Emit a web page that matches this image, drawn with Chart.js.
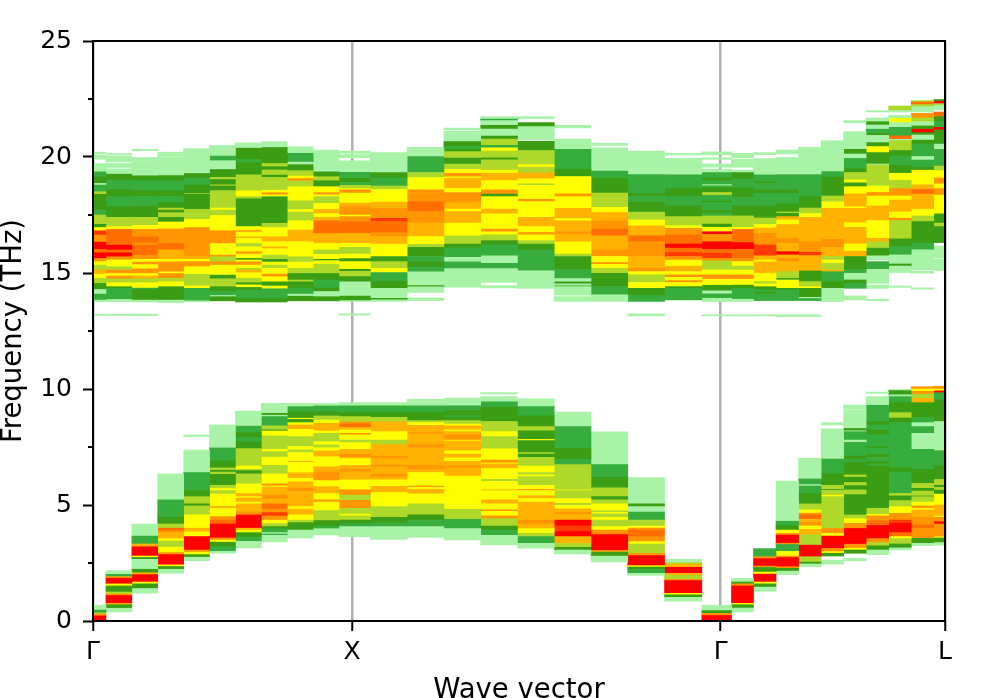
<!DOCTYPE html>
<html>
<head>
<meta charset="utf-8">
<script src="https://cdn.jsdelivr.net/npm/chart.js@4/dist/chart.umd.js"></script>
<style>html,body{margin:0;padding:0;background:#fff;overflow:hidden}canvas{display:block}</style>
</head>
<body>
<canvas id="c" width="997" height="698"></canvas>
<script>
// Wave-vector path position of every q-point
const qPoints = [0,0.1,0.2,0.3,0.4,0.5,0.6,0.7,0.8,0.9,1.0,1.142,1.284,1.426,1.568,1.71,1.852,1.994,2.136,2.278,2.424,2.507,2.594,2.681,2.768,2.855,2.942,3.029,3.116,3.203,3.29];
const tickPositions = [0,1.0,2.424,3.29];
const tickLabels = ['Γ','X','Γ','L'];
const freqTicks = [0,5,10,15,20,25];
const minorFreqTicks = [2.5,7.5,12.5,17.5,22.5];
// DOS weight classes: 0 = empty
const levelColors = [null,'#a8f3a8','#37ad3d','#3a9d13','#aed92a','#ffff00','#ffb300','#ff9500','#ff6f00','#ff3a00','#ff0000'];

// Each list runs downward in frequency: f, class, f, class, f ...
const low00=[0.68,1,0.47,2,0.35,4,0.3,7,0.22,10,0];
const low01=[2.17,1,2.01,2,1.91,6,1.85,10,1.6,5,1.51,3,1.25,4,1.16,7,1.1,10,0.76,6,0.7,3,0.55,1,0.39];
const low02=[4.18,1,3.66,2,3.32,6,3.2,10,2.8,5,2.74,3,2.66,1,2.23,3,2.08,6,2.0,10,1.68,5,1.6,3,1.4,1,1.2];
const low03=[6.34,1,5.22,2,4.47,3,4.18,4,4.0,8,3.88,7,3.8,6,3.55,5,3.44,4,3.18,5,2.95,7,2.86,10,2.42,5,2.35,3,2.23,1,2.06];
const low04=[8.02,1,7.95,0,7.37,1,6.4,2,5.62,3,5.36,4,5.05,3,4.96,4,4.58,5,4.0,6,3.84,5,3.64,10,3.06,7,2.97,5,2.86,3,2.75,1,2.6];
const low05=[8.45,1,7.46,2,6.9,3,6.6,4,6.5,3,6.42,4,6.32,3,5.85,4,5.71,5,5.62,4,5.48,5,4.93,7,4.87,5,4.5,7,4.35,8,4.18,10,3.58,7,3.49,5,3.4,3,3.2,2,3.0,1,2.92];
const low06=[9.05,1,8.4,2,8.12,3,7.92,2,7.72,3,7.43,4,6.68,5,6.54,4,6.48,3,6.34,4,5.91,5,5.5,6,5.36,5,5.3,6,5.13,5,5.05,6,4.7,7,4.57,10,4.0,6,3.92,5,3.81,3,3.6,2,3.43,1,3.15];
const low07=[9.38,1,8.95,3,8.87,1,8.81,2,8.41,4,8.24,3,8.19,5,7.98,4,7.4,5,7.3,4,7.06,5,6.71,4,6.34,5,5.91,7,5.82,5,5.77,6,5.43,7,5.25,6,5.05,8,4.82,7,4.67,9,4.53,7,4.35,5,4.2,4,4.07,3,3.98,2,3.81,1,3.75,2,3.69,1,3.41];
const low08=[9.38,1,9.24,2,9.02,3,8.74,5,8.69,3,8.55,5,8.45,6,8.26,5,8.12,5,7.95,4,7.52,5,7.38,4,7.26,5,6.88,7,6.85,5,6.39,6,6.15,5,6.0,6,5.72,7,5.58,6,4.93,5,4.82,6,4.58,5,4.35,4,4.24,3,3.92,1,3.58];
const low09=[9.38,1,9.27,2,9.02,3,8.84,4,8.66,5,8.52,6,8.19,5,8.09,4,7.73,5,7.59,4,7.47,5,7.33,6,7.08,5,6.65,6,6.43,7,6.05,5,5.79,6,5.5,5,5.22,7,5.13,5,4.76,4,4.33,3,4.1,2,3.98,1,3.71];
const low10=[9.41,1,9.27,2,8.98,3,8.81,4,8.59,7,8.49,8,8.35,6,8.24,5,8.09,7,8.02,5,7.8,4,7.69,5,7.4,6,7.2,7,7.06,6,7.0,5,6.71,6,6.54,7,6.43,6,6.08,5,5.65,7,5.43,4,5.2,7,4.86,4,4.61,5,4.53,4,4.35,3,4.2,2,4.07,1,3.64];
const low11=[9.41,1,9.27,2,8.98,3,8.78,4,8.58,6,8.16,5,7.8,4,7.6,6,7.11,7,7.0,6,6.72,7,6.63,6,6.34,7,6.2,6,6.08,5,5.8,6,5.55,5,4.93,4,4.47,3,4.24,2,4.07,1,3.52];
const low12=[9.56,1,9.47,0,9.45,1,9.27,2,8.98,3,8.64,4,8.55,5,8.43,6,8.12,7,8.06,6,7.6,7,7.46,6,6.71,7,6.54,6,6.4,5,5.82,7,5.76,5,5.68,6,5.48,5,5.05,4,4.58,3,4.33,2,4.07,1,3.6];
const low13=[9.61,1,9.27,2,9.07,3,8.84,2,8.78,3,8.64,4,8.49,5,8.41,6,8.24,5,8.16,6,8.02,7,7.8,5,7.75,6,7.34,5,7.2,6,7.03,5,6.88,6,6.68,7,6.6,6,6.25,5,4.81,4,4.38,2,3.98,1,3.49];
const low14=[9.85,1,9.79,0,9.67,1,9.45,2,9.21,3,8.6,4,8.16,5,7.95,4,7.42,5,6.94,7,6.82,5,6.77,6,6.57,5,6.11,4,6.02,5,5.65,7,5.62,5,5.22,6,5.05,5,4.79,7,4.73,5,4.53,7,4.41,4,4.09,3,3.92,2,3.69,1,3.28];
const low15=[9.58,1,9.24,2,8.84,3,8.38,4,8.2,3,7.83,5,7.78,3,7.26,4,7.2,3,7.06,4,6.68,5,6.4,4,6.3,5,6.22,4,5.85,5,5.68,7,5.62,5,5.39,6,5.28,5,5.13,6,4.35,7,4.18,6,3.98,5,3.78,4,3.64,2,3.35,1,3.14];
const low16=[9.01,1,8.38,2,7.43,3,6.97,2,6.74,4,5.65,5,5.62,4,5.28,5,5.07,4,4.99,5,4.83,6,4.67,7,4.6,6,4.35,10,4.1,9,3.85,10,3.64,6,3.35,4,3.18,3,3.06,1,2.89];
const low17=[8.15,1,6.74,2,6.2,3,5.74,4,5.36,3,5.22,4,5.05,5,4.75,4,4.68,5,4.62,4,4.47,5,4.35,4,4.07,5,3.92,7,3.72,10,3.03,6,2.97,3,2.8,1,2.55];
const low18=[6.18,1,5.05,3,4.93,1,4.7,2,4.35,4,4.09,5,4.0,7,3.92,8,3.64,7,3.42,5,3.32,4,2.92,7,2.82,10,2.39,5,2.32,3,2.23,2,2.05,1,1.97];
const low19=[2.66,1,2.51,4,2.45,6,2.31,10,2.05,6,1.97,4,1.8,7,1.74,10,1.19,5,1.13,3,1.02,1,0.86];
const low20=[0.68,1,0.45,3,0.33,7,0.24,10,0];
const low21=[1.84,1,1.68,3,1.6,7,1.51,10,0.76,5,0.7,3,0.56,1,0.39];
const low22=[3.12,2,2.77,7,2.69,10,2.37,7,2.31,3,2.11,5,2.02,10,1.68,5,1.6,3,1.46,1,1.28];
const low23=[6.03,1,4.3,2,4.1,3,3.92,5,3.78,7,3.7,10,3.35,7,3.3,2,3.0,5,2.8,7,2.74,10,2.34,7,2.27,3,2.15,1,2.0];
const low24=[7.02,1,6.12,2,5.88,1,5.82,2,5.5,3,5.05,4,4.79,5,4.65,7,4.57,8,4.38,6,4.25,7,4.1,5,3.95,6,3.72,4,3.27,10,2.77,4,2.54,3,2.46,1,2.34];
const low25=[8.55,1,8.45,0,8.28,1,6.98,2,6.34,3,5.85,4,5.67,3,5.63,4,5.43,5,5.36,4,3.99,7,3.78,5,3.66,10,3.13,7,2.99,5,2.92,3,2.8,0,2.62,1,2.45];
const low26=[9.31,1,9.12,0,9.08,1,8.3,3,8.2,1,8.16,2,7.8,1,7.7,2,7.11,3,6.97,2,6.83,3,6.3,4,6.2,3,5.97,4,5.84,3,5.65,4,5.45,3,4.57,4,4.41,5,4.21,7,3.99,10,3.31,7,3.14,5,3.06,3,2.92,0,2.7,1,2.59];
const low27=[9.87,1,9.81,0,9.67,1,9.3,2,8.59,3,8.45,2,8.23,3,8.03,2,7.5,3,7.44,2,7.19,3,7.05,2,6.87,3,6.77,2,6.68,3,4.86,4,4.6,5,4.53,7,4.33,8,4.12,10,3.55,7,3.38,4,3.24,3,3.06,1,2.86];
const low28=[9.98,1,9.93,3,9.75,1,9.67,2,9.41,3,8.98,4,8.75,3,8.55,2,6.6,3,6.42,2,5.5,4,5.39,3,5.19,4,4.93,5,4.64,7,4.35,9,4.21,10,3.81,8,3.64,5,3.55,4,3.32,3,3.15,1,3.06];
const low29=[10.1,7,10.0,5,9.9,7,9.78,4,9.6,6,9.41,3,8.78,2,8.55,1,8.38,2,8.09,1,7.4,2,6.54,3,5.93,4,5.72,3,5.6,4,5.39,3,5.36,4,5.13,5,4.96,7,4.86,5,4.79,6,4.47,7,4.14,8,3.99,7,3.56,3,3.35,1,3.25];
const low30=[10.12,7,10.0,5,9.92,10,9.84,2,9.53,3,8.6,1,8.16,1,7.34,2,6.7,3,6.1,4,5.85,3,5.76,4,5.64,3,5.47,5,5.0,6,4.53,5,4.47,7,4.28,10,4.18,7,3.63,5,3.58,3,3.38,1,3.27];

const high00=[20.21,1,20.13,0,20.07,1,19.9,0,19.72,1,19.36,2,19.15,3,18.86,1,18.79,2,18.5,4,18.39,3,17.71,2,17.5,4,17.1,3,16.96,5,16.82,9,16.63,7,16.33,10,16.02,8,15.87,10,15.63,7,15.49,5,15.34,4,15.13,6,14.95,5,14.77,4,14.55,3,14.29,1,14.09,2,13.83,1,13.76,0,13.23,1,13.17];
const high01=[20.15,1,20.1,0,20.05,1,19.79,0,19.72,1,19.55,0,19.49,1,19.26,3,19.0,2,18.6,3,18.29,2,17.86,3,17.4,4,17.0,5,16.88,8,16.2,10,15.99,8,15.87,10,15.7,7,15.56,5,15.27,4,15.13,7,14.98,5,14.87,7,14.75,4,14.58,5,14.41,3,14.34,2,13.86,1,13.76,0,13.23,1,13.17];
const high02=[20.33,1,20.27,0,19.98,1,19.81,0,19.79,1,19.19,3,18.98,2,18.55,3,18.31,2,17.88,3,17.4,4,17.05,5,16.88,7,16.56,8,16.3,7,16.2,8,15.77,7,15.59,5,15.47,7,15.36,5,15.18,7,14.98,5,14.87,6,14.75,4,14.58,5,14.35,2,14.29,3,13.83,1,13.75,0,13.23,1,13.16];
const high03=[20.21,1,20.15,0,20.12,1,20.04,0,20.01,1,19.2,3,18.98,2,18.55,3,18.31,2,18.03,3,17.8,4,17.71,3,17.6,4,17.4,3,17.2,5,16.9,7,16.27,8,16.0,6,15.59,5,15.48,7,15.05,5,14.98,7,14.77,4,14.62,5,14.41,3,13.83,1,13.72];
const high04=[20.36,1,19.29,3,19.08,2,18.79,3,18.43,4,18.4,3,17.74,4,17.31,5,16.96,7,15.7,6,15.59,5,15.49,7,15.27,5,14.95,4,14.44,5,14.34,2,13.8,1,13.76];
const high05=[20.5,1,20.04,2,19.84,1,19.65,1,19.46,3,19.12,4,19.03,3,18.8,4,18.75,3,18.55,4,17.8,5,17.71,4,17.48,5,16.82,7,16.27,5,15.77,7,15.7,4,15.49,7,15.34,5,14.91,3,14.75,4,14.41,3,14.2,2,14.03,1,13.98,3,13.8];
const high06=[20.61,1,20.38,3,19.9,2,19.75,3,19.23,4,18.54,5,18.29,4,18.2,3,17.0,5,16.85,6,16.75,5,16.56,6,16.49,5,16.27,4,16.13,5,15.92,7,15.82,5,15.63,3,15.56,5,15.48,7,15.34,5,15.2,4,15.13,6,15.01,5,14.77,4,14.58,3,14.49,5,14.38,3,14.26,2,13.9,3,13.75];
const high07=[20.66,1,20.41,3,19.72,4,19.58,3,19.44,4,19.22,3,19.12,4,18.57,5,18.46,7,18.37,5,18.29,3,17.14,4,16.96,5,16.56,6,16.35,5,16.13,6,16.05,5,15.77,4,15.59,3,15.47,5,15.34,4,15.2,5,14.95,7,14.84,5,14.62,3,14.44,5,14.32,2,13.9,3,13.75];
const high08=[20.44,1,20.16,2,19.78,1,19.67,3,19.41,4,19.18,5,19.07,7,18.97,4,18.72,5,18.11,4,17.94,4,17.74,5,17.62,4,17.25,5,16.85,6,16.35,5,15.7,4,15.47,5,15.2,4,14.98,3,14.7,4,14.62,3,14.35,2,14.09,1,14.0,3,13.8];
const high09=[20.3,1,19.36,3,19.15,4,18.98,3,18.72,5,18.46,7,18.37,5,18.29,4,18.0,5,17.74,6,17.56,5,17.4,6,17.25,8,16.7,6,16.27,5,16.0,4,15.8,5,15.59,3,15.53,5,15.38,4,14.98,3,14.7,2,14.35,3,14.2,1,13.98,3,13.8];
const high10=[20.25,1,20.15,0,20.1,1,19.97,0,19.84,1,19.34,2,19.08,3,18.9,2,18.78,4,18.64,5,18.58,7,18.44,5,18.01,6,17.86,7,17.5,5,17.43,7,17.22,8,16.71,6,16.28,5,16.11,4,15.82,5,15.62,3,15.49,5,15.16,3,15.07,4,14.85,3,14.62,1,14.01,3,13.81,1,13.78,0,13.24,1,13.18];
const high11=[20.19,1,19.33,3,19.1,2,18.75,4,18.6,5,18.06,6,17.79,7,17.36,9,17.22,8,16.74,7,16.57,6,16.25,5,15.85,5,15.71,3,15.49,4,15.2,5,15.02,2,14.63,3,14.34,1,13.91,3,13.84,1,13.77];
const high12=[20.42,1,20.02,2,19.33,4,19.11,5,18.58,7,18.47,7,18.08,8,17.68,8,17.65,7,17.15,6,16.57,5,16.24,4,16.11,3,15.71,2,15.48,3,15.25,2,15.05,1,14.46,3,14.4,1,14.16,0,13.93,1,13.81];
const high13=[21.25,1,21.17,0,21.11,1,20.66,3,20.45,2,20.33,3,20.23,4,19.95,3,19.69,4,19.47,5,19.3,7,19.15,5,19.08,6,18.65,5,18.47,7,18.22,7,18.03,6,17.75,5,17.65,6,17.15,5,16.6,4,16.25,3,16.08,2,15.68,1,15.48,2,15.19,1,14.39];
const high14=[21.74,1,21.63,2,21.57,1,21.37,3,21.2,1,20.9,3,20.77,4,20.5,2,20.39,5,20.25,4,19.96,3,19.88,4,19.44,5,19.3,6,18.98,5,18.58,7,18.4,3,18.29,5,17.75,6,17.55,5,16.89,7,16.77,5,16.64,4,16.4,3,16.21,2,15.74,1,15.42,2,15.19,1,14.59,0,14.46,1,14.36];
const high15=[21.74,1,21.65,0,21.48,3,21.31,1,20.74,0,20.68,3,20.28,4,20.09,4,19.67,5,19.55,4,19.32,6,19.06,5,18.84,4,18.78,5,18.52,5,18.18,7,18.08,5,17.4,6,17.0,5,16.74,7,16.65,5,16.4,4,16.25,3,15.97,2,15.09,1,14.33];
const high16=[21.37,1,21.25,0,20.77,1,20.33,2,19.47,3,19.16,5,18.41,7,18.29,5,18.0,5,17.79,6,17.35,5,17.25,6,16.79,7,16.68,6,16.34,5,15.82,4,15.71,3,15.16,2,14.76,1,14.62,3,14.53,1,14.45,3,14.41,1,14.04,0,13.98,1,13.78];
const high17=[20.59,1,20.5,0,20.39,1,19.39,2,19.27,2,19.08,3,18.44,4,17.83,5,17.6,6,17.25,7,16.89,8,16.6,6,16.0,7,15.71,5,15.45,7,15.37,5,15.2,4,14.99,3,14.42,2,14.06,1,13.77];
const high18=[20.25,1,19.24,2,18.42,3,18.3,2,18.06,3,17.63,4,17.29,5,17.03,6,16.6,8,16.35,7,15.71,6,15.2,7,15.06,5,14.92,4,14.59,5,14.34,3,14.04,2,13.78,0,13.24,1,13.15];
const high19=[20.16,1,20.09,0,19.94,1,19.23,2,18.64,3,18.32,2,17.89,3,17.43,4,17.03,5,16.93,7,16.64,8,16.25,10,16.07,8,15.88,9,15.71,7,15.56,5,15.3,6,15.06,5,14.92,7,14.81,5,14.67,7,14.59,5,14.41,3,14.34,2,13.84];
const high20=[20.22,1,20.09,0,19.97,1,19.9,0,19.7,1,19.56,0,19.47,1,19.33,2,19.1,3,18.98,2,18.81,1,18.76,2,18.67,3,18.47,4,18.35,2,18.1,3,18.03,2,17.7,3,17.58,2,17.46,4,17.11,3,16.97,5,16.78,10,16.67,7,16.35,10,16.02,8,15.85,9,15.63,7,15.52,4,15.13,5,14.92,7,14.73,5,14.47,3,14.23,1,14.1,2,13.91,1,13.77,0,13.2,1,13.15];
const high21=[20.16,1,19.96,0,19.9,1,19.72,0,19.73,1,19.56,0,19.44,1,19.33,3,19.04,2,18.67,3,18.27,2,17.89,3,17.46,4,16.97,5,16.88,8,16.31,10,16.02,8,15.63,7,15.49,5,15.3,4,15.13,5,14.92,7,14.73,5,14.48,3,14.33,2,13.87,1,13.77,0,13.2,1,13.15];
const high22=[20.19,1,20.1,0,19.93,1,19.23,2,18.94,3,18.87,2,18.58,3,18.44,2,17.89,3,17.37,4,17.09,5,16.94,6,16.71,7,16.5,7,16.21,9,15.74,6,15.56,5,15.48,6,14.99,5,14.63,4,14.53,5,14.41,3,14.27,2,14.18,3,14.1,2,13.81,0,13.2,1,13.15];
const high23=[20.3,1,20.13,0,19.98,1,19.24,2,18.58,3,18.44,2,17.98,3,17.63,4,17.57,3,17.43,6,17.29,5,17.09,6,16.5,7,16.28,6,15.92,10,15.78,6,15.63,7,15.49,6,15.06,4,14.77,3,14.7,5,14.34,3,14.27,2,13.81,0,13.2,1,13.12];
const high24=[20.42,1,19.24,2,18.29,3,17.8,4,17.57,5,17.4,6,16.35,7,16.02,7,15.89,9,15.75,6,15.09,3,14.63,4,14.41,5,14.34,3,13.95,1,13.9,2,13.81,0,13.2,1,13.12];
const high25=[20.7,1,19.37,2,19.13,3,18.32,4,18.07,5,17.79,6,16.45,7,16.11,6,15.71,4,15.56,5,15.42,4,15.13,6,15.06,2,14.63,3,14.34,1,13.77];
const high26=[21.57,1,21.48,0,21.09,1,20.33,3,20.13,1,19.94,2,19.5,3,19.33,4,19.01,5,18.92,4,18.87,3,18.72,5,18.41,6,17.86,5,17.79,6,17.17,5,16.97,6,16.25,5,15.94,6,15.71,3,15.16,2,14.99,1,14.7,3,14.56,2,14.34,0,14.01,1,13.84];
const high27=[22.0,1,21.94,0,21.68,1,21.52,3,21.38,1,21.2,2,21.02,3,20.93,1,20.62,3,20.45,5,20.19,3,19.94,3,19.7,1,19.66,4,18.75,5,18.47,7,18.32,5,17.89,6,17.26,5,16.5,6,16.35,4,16.07,3,15.74,1,15.57,0,15.49,2,15.16,1,14.56,0,14.48,1,14.34,0,13.87,1,13.81];
const high28=[22.2,4,22.0,1,21.94,0,21.8,1,21.67,5,21.48,1,21.28,2,20.91,8,20.76,1,20.71,4,20.28,3,20.05,2,19.64,3,19.3,5,19.0,4,18.64,7,18.32,5,18.15,6,17.63,5,17.36,7,17.26,4,16.47,3,16.14,2,15.78,1,15.39,3,15.3,1,15.02,0,14.44,1,14.38];
const high29=[22.43,4,22.37,8,22.26,4,22.17,1,21.94,0,21.88,7,21.68,4,21.52,1,21.34,3,21.2,10,21.05,3,20.95,1,20.73,3,20.56,2,20.02,1,19.87,2,19.56,3,19.43,5,18.8,6,18.6,8,18.4,6,17.75,5,17.46,4,17.22,3,16.68,3,16.28,2,16.0,1,15.13,0,15.07,1,14.99,0,14.36,1,14.3];
const high30=[22.48,3,22.4,10,22.3,4,22.23,1,22.03,0,21.94,8,21.74,3,21.52,2,21.28,10,21.17,3,20.59,2,20.55,1,20.33,2,19.61,4,19.41,5,19.1,7,18.84,5,18.64,7,18.36,5,17.86,5,17.55,3,17.15,4,17.0,3,16.31,0,16.16,1,15.65,0,15.6,1,15.11];

const lowBands = [low00,low01,low02,low03,low04,low05,low06,low07,low08,low09,low10,low11,low12,low13,low14,low15,low16,low17,low18,low19,low20,low21,low22,low23,low24,low25,low26,low27,low28,low29,low30];
const highBands = [high00,high01,high02,high03,high04,high05,high06,high07,high08,high09,high10,high11,high12,high13,high14,high15,high16,high17,high18,high19,high20,high21,high22,high23,high24,high25,high26,high27,high28,high29,high30];

const FONT = "'DejaVu Sans', sans-serif";
const xMin = qPoints[0], xMax = qPoints[qPoints.length-1];

function columnEdges(i){
  const lo = i===0 ? xMin : (qPoints[i-1]+qPoints[i])/2;
  const hi = i===qPoints.length-1 ? xMax : (qPoints[i]+qPoints[i+1])/2;
  return [lo,hi];
}
function buildCells(list, xMid){
  const cells=[];
  for(let k=0;k+2<list.length;k+=2){
    const lvl=list[k+1];
    if(!lvl) continue;
    cells.push({x:xMid,y:[list[k+2],list[k]],lvl});
  }
  return cells;
}
const datasets = qPoints.map((q,i)=>{
  const [lo,hi]=columnEdges(i);
  const mid=(lo+hi)/2;
  const cells=[...buildCells(lowBands[i],mid),...buildCells(highBands[i],mid)];
  return {
    data:cells,
    grouped:false,
    borderWidth:0,
    backgroundColor:cells.map(c=>levelColors[c.lvl]),
    barThickness:(ctx)=>{
      const s=ctx.chart.scales.x;
      return s.getPixelForValue(hi)-s.getPixelForValue(lo);
    }
  };
});

const framePlugin = {
  id:'frame',
  afterDraw(chart){
    const {ctx,chartArea:a,scales:{y}}=chart;
    ctx.save();
    ctx.strokeStyle='#000';
    ctx.lineWidth=2;
    ctx.strokeRect(a.left,a.top,a.right-a.left,a.bottom-a.top);
    minorFreqTicks.forEach(v=>{
      const py=Math.round(y.getPixelForValue(v));
      ctx.beginPath();ctx.moveTo(a.left-5,py);ctx.lineTo(a.left,py);ctx.stroke();
    });
    ctx.restore();
  }
};

new Chart(document.getElementById('c'),{
  type:'bar',
  data:{datasets},
  plugins:[framePlugin],
  options:{
    responsive:false,
    animation:false,
    parsing:{xAxisKey:'x',yAxisKey:'y'},
    layout:{padding:{left:0,right:52,top:41,bottom:0}},
    plugins:{legend:{display:false},tooltip:{enabled:false}},
    scales:{
      x:{
        type:'linear',offset:false,min:xMin,max:xMax,
        grid:{offset:false,color:'#b0b0b0',lineWidth:2.5,tickColor:'#000',tickLength:10,tickWidth:2},
        border:{display:false},
        afterBuildTicks:(s)=>{s.ticks=tickPositions.map(v=>({value:v}));},
        afterFit:(s)=>{s.height=77;},
        ticks:{autoSkip:false,maxRotation:0,minRotation:0,color:'#000',font:{family:FONT,size:25},padding:6,
          callback:(v)=>tickLabels[tickPositions.indexOf(v)]},
        title:{display:true,text:'Wave vector',color:'#000',font:{family:FONT,size:27.5},padding:{top:0,bottom:-9}}
      },
      y:{
        type:'linear',min:0,max:25,
        grid:{drawOnChartArea:false,tickColor:'#000',tickLength:10,tickWidth:2},
        border:{display:false},
        afterBuildTicks:(s)=>{s.ticks=freqTicks.map(v=>({value:v}));},
        afterFit:(s)=>{s.width=93;},
        ticks:{color:'#000',font:{family:FONT,size:25},padding:11},
        title:{display:true,text:'Frequency (THz)',color:'#000',font:{family:FONT,size:27.5},padding:{top:-3,bottom:0}}
      }
    }
  }
});
</script>
</body>
</html>
